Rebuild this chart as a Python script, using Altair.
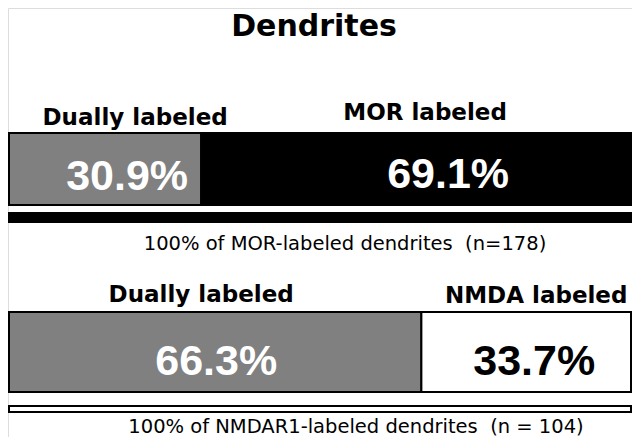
import altair as alt
import pandas as pd

# ---------------- data ----------------
title_text = "Dendrites"
top_categories = ["Dually labeled", "MOR labeled"]
top_values = [30.9, 69.1]
top_note = "100% of MOR-labeled dendrites\u00a0 (n=178)"
bottom_categories = ["Dually labeled", "NMDA labeled"]
bottom_values = [66.3, 33.7]
bottom_note = "100% of NMDAR1-labeled dendrites\u00a0 (n = 104)"

# ---------------- layout (page pixels) ----------------
W, H = 624, 429
X_RANGE = [1, 623]                    # 0% .. 100% inside the plot
PX = 100.0 / (X_RANGE[1] - X_RANGE[0])  # percent per pixel
Y_DOMAIN = [8, 437]                   # vertical layout in page pixels

layout = {
    "top": dict(bar=(133, 205), thin=(213, 222), thin_fill="#000000",
                fills=["#808080", "#000000"], pct_colors=["#ffffff", "#ffffff"],
                label_base=[125, 120], pct_base=[190, 188],
                label_dx=[30, 9], pct_dx=[22, 32], note_base=250, note_dx=25),
    "bottom": dict(bar=(312, 392), thin=(406, 412), thin_fill="#ffffff",
                   fills=["#808080", "#ffffff"], pct_colors=["#ffffff", "#000000"],
                   label_base=[302, 303], pct_base=[375, 375],
                   label_dx=[-14, 10], pct_dx=[1, 8], note_base=433, note_dx=36),
}
title_base, title_dx = 36, -6

# ---------------- tables ----------------
seg_rows, thin_rows, note_rows = [], [], []
for key, cats, vals, note in [("top", top_categories, top_values, top_note),
                              ("bottom", bottom_categories, bottom_values, bottom_note)]:
    L = layout[key]
    start = 0.0
    for i, (c, v) in enumerate(zip(cats, vals)):
        end = start + v
        mid = (start + end) / 2
        seg_rows.append(dict(
            row=key, category=c, value=v, start=start, end=end,
            y1=L["bar"][0], y2=L["bar"][1], fill=L["fills"][i],
            label_x=mid + L["label_dx"][i] * PX, label_y=L["label_base"][i],
            pct_x=mid + L["pct_dx"][i] * PX, pct_y=L["pct_base"][i],
            pct_color=L["pct_colors"][i], pct_text=f"{v:.1f}%"))
        start = end
    thin_rows.append(dict(row=key, start=0.0, end=sum(vals),
                          y1=L["thin"][0], y2=L["thin"][1], fill=L["thin_fill"]))
    note_rows.append(dict(row=key, text=note, x=50 + L["note_dx"] * PX, y=L["note_base"]))

seg = pd.DataFrame(seg_rows)
thin = pd.DataFrame(thin_rows)
notes = pd.DataFrame(note_rows)
titles = pd.DataFrame([dict(text=title_text, x=50 + title_dx * PX, y=title_base)])

xs = alt.Scale(domain=[0, 100], range=X_RANGE)
ys = alt.Scale(domain=Y_DOMAIN, reverse=True)

bars = alt.Chart(seg).mark_rect(stroke="#000000", strokeWidth=2).encode(
    x=alt.X("start:Q", scale=xs, axis=None),
    x2="end:Q",
    y=alt.Y("y1:Q", scale=ys, axis=None),
    y2="y2:Q",
    fill=alt.Fill("fill:N", scale=None),
)

thins = alt.Chart(thin).mark_rect(stroke="#000000", strokeWidth=2).encode(
    x=alt.X("start:Q", scale=xs, axis=None),
    x2="end:Q",
    y=alt.Y("y1:Q", scale=ys, axis=None),
    y2="y2:Q",
    fill=alt.Fill("fill:N", scale=None),
)

labels = alt.Chart(seg).mark_text(
    font="DejaVu Sans", fontWeight="bold", fontSize=23, align="center",
    baseline="alphabetic", color="#000000").encode(
    x=alt.X("label_x:Q", scale=xs, axis=None),
    y=alt.Y("label_y:Q", scale=ys, axis=None),
    text="category:N",
)

pcts = alt.Chart(seg).mark_text(
    font="Liberation Sans", fontWeight="bold", fontSize=43, align="center",
    baseline="alphabetic").encode(
    x=alt.X("pct_x:Q", scale=xs, axis=None),
    y=alt.Y("pct_y:Q", scale=ys, axis=None),
    text="pct_text:N",
    color=alt.Color("pct_color:N", scale=None),
)

note_text = alt.Chart(notes).mark_text(
    font="DejaVu Sans", fontSize=19.5, align="center", baseline="alphabetic",
    color="#000000").encode(
    x=alt.X("x:Q", scale=xs, axis=None),
    y=alt.Y("y:Q", scale=ys, axis=None),
    text="text:N",
)

title_mark = alt.Chart(titles).mark_text(
    font="DejaVu Sans", fontWeight="bold", fontSize=30, align="center",
    baseline="alphabetic", color="#000000").encode(
    x=alt.X("x:Q", scale=xs, axis=None),
    y=alt.Y("y:Q", scale=ys, axis=None),
    text="text:N",
)

chart = alt.layer(bars, thins, labels, pcts, note_text, title_mark).properties(
    width=W, height=H, padding=0,
    autosize=alt.AutoSizeParams(type="fit", contains="padding"),
).configure_view(stroke="transparent", strokeWidth=0).configure(background="#ffffff")

chart.save("out.html", embed_options={"renderer": "svg", "actions": False})
